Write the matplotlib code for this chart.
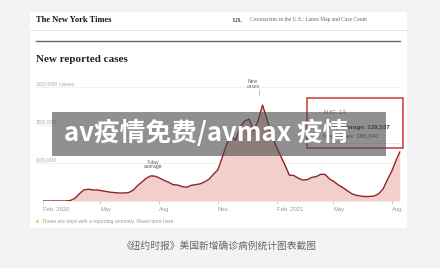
import matplotlib
matplotlib.use('Agg')
import matplotlib.pyplot as plt
import matplotlib.dates as mdates
from matplotlib.patches import Rectangle
from matplotlib.lines import Line2D
import numpy as np
import pandas as pd

# weekly 7-day average of new reported cases (thousands), Sundays from 2020-02-02
week_start = '2020-02-02'
avg_k = [0, 0, 0, 0,
         0, 0.1, 1.5, 7, 19,
         29, 31, 29, 29,
         27, 25, 23, 22, 21,
         21, 22, 28, 40,
         50, 60, 66, 65,
         60, 54, 49, 43, 42,
         38, 36, 41, 43,
         45, 50, 57, 70,
         82, 115, 150, 170, 160,
         195, 210, 215, 185,
         210, 252, 215, 175, 145,
         120, 95, 68, 67,
         60, 55, 56, 62,
         64, 70, 70, 58,
         51, 42, 35, 27, 19,
         15, 13, 11.5, 12,
         13, 19, 32, 57,
         80, 110]
last_day = '2021-08-13'
last_avg = 128.537
last_new = 186840

ytick_vals = [100000, 200000, 300000]
ytick_labels = ['100,000', '200,000', '300,000 cases']
xtick_dates = ['2020-02-01', '2020-05-01', '2020-08-01', '2020-11-01',
               '2021-02-01', '2021-05-01', '2021-08-01']
xtick_labels = ['Feb. 2020', 'May', 'Aug.', 'Nov.', 'Feb. 2021', 'May', 'Aug.']

dates = list(pd.date_range(week_start, periods=len(avg_k), freq='7D'))
dates.append(pd.Timestamp(last_day))
vals = np.array(avg_k + [last_avg]) * 1000

W, H = 440, 268
def px(x):
    return x / W
def py(y):
    return 1 - y / H

fig = plt.figure(figsize=(4.4, 2.68), dpi=100)
fig.patch.set_facecolor('#f3f3f3')

# white card
fig.add_artist(Rectangle((px(30), py(228)), px(407) - px(30), py(12) - py(228),
                         transform=fig.transFigure, facecolor='white',
                         edgecolor='none', zorder=0))

# header
fig.text(px(36), py(20), 'The New York Times', family='Liberation Serif',
         weight='bold', fontsize=6, color='#111', va='center')
fig.text(px(233), py(20), 'U.S.', family='Liberation Serif', weight='bold',
         fontsize=4, color='#222', va='center')
fig.text(px(250), py(20), 'Coronavirus in the U.S.: Latest Map and Case Count',
         family='Liberation Serif', fontsize=4, color='#666', va='center')
fig.add_artist(Line2D([px(30), px(407)], [py(30), py(30)], color='#e2e2e2',
                      lw=0.6, transform=fig.transFigure, zorder=2))
fig.add_artist(Line2D([px(36), px(400)], [py(41), py(41)], color='#666',
                      lw=1.0, transform=fig.transFigure, zorder=2))
fig.text(px(36), py(59), 'New reported cases', family='Liberation Serif',
         weight='bold', fontsize=8, color='#222', va='center')

# chart
ax = fig.add_axes([px(36), py(201), px(401) - px(36), py(80) - py(201)])
ax.set_zorder(1)
ax.patch.set_alpha(0)
ax.fill_between(dates, 0, vals, color='#f2cfcc', lw=0)
ax.plot(dates, vals, color='#8e2424', lw=1.0)
ax.set_xlim(pd.Timestamp('2020-01-21'), pd.Timestamp('2021-08-15'))
ax.set_ylim(0, 318000)
for v in ytick_vals:
    ax.axhline(v, color='#ececec', lw=0.5, zorder=0)
for v, lab in zip(ytick_vals, ytick_labels):
    ax.text(0, v + 2500, lab, transform=ax.get_yaxis_transform(),
            family='Liberation Sans', fontsize=4.2, color='#aaa', va='bottom')
ax.axhline(0, color='#bbb', lw=0.5)
for s in ax.spines.values():
    s.set_visible(False)
ax.set_yticks([])
ax.set_xticks([pd.Timestamp(d) for d in xtick_dates])
ax.set_xticklabels(xtick_labels, ha='left', family='Liberation Sans',
                   fontsize=4.2, color='#999')
ax.tick_params(axis='x', length=2, width=0.5, color='#bbb', pad=2)

# annotations
ax.annotate('7-day\naverage', xy=(pd.Timestamp('2020-07-22'), 68000),
            xytext=(pd.Timestamp('2020-07-22'), 83000), ha='center', va='bottom',
            family='Liberation Sans', fontsize=3.6, color='#555', linespacing=0.9,
            arrowprops=dict(arrowstyle='-', color='#555', lw=0.5))
ax.text(pd.Timestamp('2020-12-26'), 295000, 'New\ncases', ha='center', va='bottom',
        family='Liberation Sans', fontsize=3.6, color='#666', linespacing=0.9)
ax.plot([pd.Timestamp('2021-01-05')] * 2, [278000, 292000], color='#888', lw=0.4)

# red highlight box
fig.add_artist(Rectangle((px(307), py(148)), px(403) - px(307), py(98) - py(148),
                         transform=fig.transFigure, facecolor='white',
                         edgecolor='#c43b32', lw=1.1, zorder=3))
fig.add_artist(Line2D([px(318), px(398)], [py(143), py(143)], color='#ddd',
                      lw=0.5, transform=fig.transFigure, zorder=4))
fig.text(px(323), py(113), 'AUG. 13', family='Liberation Sans', fontsize=4.2,
         color='#777', va='center', zorder=4)
fig.text(px(323), py(127), '7-day average: {:,}'.format(int(round(last_avg * 1000))),
         family='Liberation Sans', weight='bold', fontsize=4.4, color='#333',
         va='center', zorder=4)
fig.text(px(323), py(136), 'New cases: {:,}'.format(last_new),
         family='Liberation Sans', fontsize=4.4, color='#555', va='center', zorder=4)

# footnote
fig.add_artist(Rectangle((px(35.5), py(223)), px(3.5), py(219.5) - py(223),
                         transform=fig.transFigure, facecolor='#f3d67a',
                         edgecolor='none', zorder=2))
fig.text(px(42), py(221), 'These are days with a reporting anomaly. Read more here.',
         family='Liberation Sans', fontsize=3.6, color='#999', va='center')

# watermark banner
fig.add_artist(Rectangle((px(52), py(156)), px(386) - px(52), py(112) - py(156),
                         transform=fig.transFigure, facecolor='#474747',
                         alpha=0.6, edgecolor='none', zorder=5))
fig.text(px(206), py(133), 'av疫情免费/avmax 疫情', family=['Noto Sans CJK SC', 'DejaVu Sans'],
         weight='bold', fontsize=18.5, color='white', ha='center', va='center', zorder=6)

# caption
fig.text(px(219), py(246), '《纽约时报》美国新增确诊病例统计图表截图',
         family=['Noto Sans CJK SC', 'DejaVu Sans'], fontsize=7, color='#666',
         ha='center', va='center')

fig.savefig('out.png', dpi=100, facecolor=fig.get_facecolor())
